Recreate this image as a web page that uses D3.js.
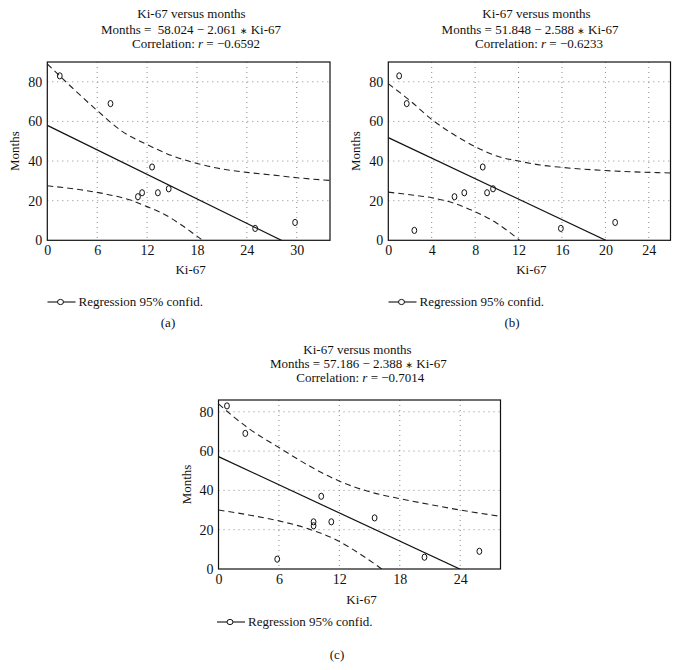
<!DOCTYPE html>
<html>
<head>
<meta charset="utf-8">
<script src="https://cdn.jsdelivr.net/npm/d3@7/dist/d3.min.js"></script>
<style>
  html, body { margin: 0; padding: 0; background: #fff; }
</style>
</head>
<body>
<svg id="chart" width="680" height="670" font-family="'Liberation Serif', 'DejaVu Serif', serif"></svg>
<script>
// ---------- DATA ----------
// Panel (a)
const kiA = [1.5, 7.6, 12.6, 10.9, 11.4, 13.3, 14.6, 25.0, 29.8];
const monthsA = [83, 69, 37, 22, 24, 24, 26, 6, 9];
const bandXUpperA = [0, 3, 6, 9, 12, 15, 18, 21, 24, 27, 30, 34];
const upperA = [89, 77, 65.5, 55, 48.3, 42.7, 38.8, 36, 34.3, 33, 31.6, 30.2];
const bandXLowerA = [0, 4, 8, 10, 12, 14, 16, 18, 20];
const lowerA = [27.5, 25.5, 22.5, 20.3, 17, 13.3, 8.1, 2.1, -4];
const regA = [58.024, -2.061];
const xTicksA = [0, 6, 12, 18, 24, 30];

// Panel (b)
const kiB = [1.0, 1.7, 2.4, 6.1, 7.0, 8.7, 9.1, 9.65, 15.9, 20.9];
const monthsB = [83, 69, 5, 22, 24, 37, 24, 26, 6, 9];
const bandXUpperB = [0, 2, 4, 6, 8, 10, 12, 14, 16, 20, 26];
const upperB = [79, 70.5, 61, 53.5, 47.3, 42.5, 40, 38, 36.8, 35.2, 34];
const bandXLowerB = [0, 2, 4, 6, 8, 10, 12, 13];
const lowerB = [24.3, 23, 21.5, 18.8, 14.4, 8.6, 0.5, -4];
const regB = [51.848, -2.588];
const xTicksB = [0, 4, 8, 12, 16, 20, 24];

// Panel (c)
const kiC = [0.84, 2.66, 5.83, 10.2, 9.44, 9.44, 11.2, 15.5, 20.45, 25.9];
const monthsC = [83, 69, 5, 37, 24, 22, 24, 26, 6, 9];
const bandXUpperC = [0, 3, 6, 9, 12, 15, 18, 21, 24, 28];
const upperC = [84, 71.5, 61.8, 52.5, 44.7, 39.3, 35.8, 32.8, 30, 26.8];
const bandXLowerC = [0, 3, 6, 9, 12, 14, 16, 17];
const lowerC = [30, 27.5, 24.5, 20.3, 14, 7.8, 0.8, -3];
const regC = [57.186, -2.388];
const xTicksC = [0, 6, 12, 18, 24];

const yTicks = [0, 20, 40, 60, 80];
const titleLine1 = "Ki-67 versus months";
const equationA = ["Months =  58.024 \u2212 2.061 ", " Ki-67"];
const equationB = ["Months = 51.848 \u2212 2.588 ", " Ki-67"];
const equationC = ["Months = 57.186 \u2212 2.388 ", " Ki-67"];
const corrA = "\u22120.6592";
const corrB = "\u22120.6233";
const corrC = "\u22120.7014";
const xLabel = "Ki-67";
const yLabel = "Months";
const legendText = "Regression 95% confid.";

// ---------- DRAW ----------
const FONT = "'Liberation Serif', 'DejaVu Serif', serif";
const svg = d3.select("#chart");

function drawPanel(p) {
  const g = svg.append("g").attr("font-family", FONT);
  const x = d3.scaleLinear().domain([0, p.xMax]).range([p.left, p.right]);
  const y = d3.scaleLinear().domain([0, p.yMax]).range([p.bottom, p.top]);
  const clipId = "clip-" + p.id;
  svg.append("defs").append("clipPath").attr("id", clipId)
    .append("rect").attr("x", p.left).attr("y", p.top)
    .attr("width", p.right - p.left).attr("height", p.bottom - p.top);

  // grid
  g.append("g").selectAll("line").data(p.xTicks.filter(d => d > 0)).join("line")
    .attr("x1", d => x(d)).attr("x2", d => x(d)).attr("y1", p.top).attr("y2", p.bottom)
    .attr("stroke", "#8a8a8a").attr("stroke-width", 1).attr("stroke-dasharray", "1,4");
  g.append("g").selectAll("line").data(yTicks.filter(d => d > 0)).join("line")
    .attr("x1", p.left).attr("x2", p.right).attr("y1", d => y(d)).attr("y2", d => y(d))
    .attr("stroke", "#8a8a8a").attr("stroke-width", 1).attr("stroke-dasharray", "1,4");

  // axes tick labels via d3 axes (no lines)
  const xAxis = g.append("g").attr("transform", `translate(0,${p.bottom})`)
    .call(d3.axisBottom(x).tickValues(p.xTicks).tickSize(0).tickPadding(5).tickFormat(d3.format("d")));
  const yAxis = g.append("g").attr("transform", `translate(${p.left},0)`)
    .call(d3.axisLeft(y).tickValues(yTicks).tickSize(0).tickPadding(5).tickFormat(d3.format("d")));
  [xAxis, yAxis].forEach(a => {
    a.attr("font-family", FONT).attr("font-size", 14);
    a.select(".domain").remove();
    a.selectAll("text").attr("font-family", FONT).attr("font-size", 14).attr("fill", "#111");
  });

  const plot = g.append("g").attr("clip-path", `url(#${clipId})`);
  const line = d3.line().x(d => x(d[0])).y(d => y(d[1])).curve(d3.curveMonotoneX);

  // confidence bands
  [[p.bxU, p.up], [p.bxL, p.lo]].forEach(([bx, bv]) => {
    plot.append("path").datum(bx.map((v, i) => [v, bv[i]]))
      .attr("d", line).attr("fill", "none").attr("stroke", "#222")
      .attr("stroke-width", 1.1).attr("stroke-dasharray", "6,4");
  });
  // regression line
  plot.append("path").datum([[0, p.reg[0]], [p.xMax, p.reg[0] + p.reg[1] * p.xMax]])
    .attr("d", d3.line().x(d => x(d[0])).y(d => y(d[1])))
    .attr("fill", "none").attr("stroke", "#111").attr("stroke-width", 1.2);

  // points
  g.append("g").selectAll("ellipse").data(p.xs.map((v, i) => [v, p.ys[i]])).join("ellipse")
    .attr("cx", d => x(d[0])).attr("cy", d => y(d[1])).attr("rx", 2.4).attr("ry", 3.1)
    .attr("fill", "none").attr("stroke", "#111").attr("stroke-width", 1);

  // frame
  g.append("rect").attr("x", p.left).attr("y", p.top)
    .attr("width", p.right - p.left).attr("height", p.bottom - p.top)
    .attr("fill", "none").attr("stroke", "#111").attr("stroke-width", 1.2);

  // titles
  const t = g.append("g").attr("font-size", 13).attr("text-anchor", "middle").attr("fill", "#111");
  t.append("text").attr("x", p.tx[0]).attr("y", p.ty[0]).text(titleLine1);
  const e = t.append("text").attr("x", p.tx[1]).attr("y", p.ty[1]).style("white-space", "pre");
  e.append("tspan").text(p.eq[0]);
  e.append("tspan").attr("font-size", 9).attr("font-family", "'DejaVu Sans', sans-serif").text("\u2217");
  e.append("tspan").text(p.eq[1]);
  const c = t.append("text").attr("x", p.tx[2]).attr("y", p.ty[2]);
  c.append("tspan").text("Correlation: ");
  c.append("tspan").attr("font-style", "italic").text("r");
  c.append("tspan").text(" = " + p.corr);

  // axis labels
  g.append("text").attr("x", (p.left + p.right) / 2 + 2).attr("y", p.xLabY)
    .attr("text-anchor", "middle").attr("font-size", 13).attr("fill", "#111").text(xLabel);
  g.append("text").attr("transform", `translate(${p.left - 28},${(p.top + p.bottom) / 2}) rotate(-90)`)
    .attr("text-anchor", "middle").attr("font-size", 13).attr("fill", "#111").text(yLabel);

  // legend
  const lg = g.append("g");
  lg.append("line").attr("x1", p.legX).attr("x2", p.legX + 28).attr("y1", p.legY).attr("y2", p.legY)
    .attr("stroke", "#111").attr("stroke-width", 1.1);
  lg.append("ellipse").attr("cx", p.legX + 13).attr("cy", p.legY).attr("rx", 3).attr("ry", 2.6)
    .attr("fill", "#fff").attr("stroke", "#111").attr("stroke-width", 1);
  lg.append("text").attr("x", p.legX + 31).attr("y", p.legY + 4).attr("font-size", 13)
    .attr("fill", "#111").text(legendText);

  // panel letter
  g.append("text").attr("x", p.letX).attr("y", p.letY).attr("text-anchor", "middle")
    .attr("font-size", 13).attr("fill", "#111").text(p.letter);
}

drawPanel({
  id: "a", left: 47.3, right: 330, top: 62, bottom: 240.3, xMax: 34, yMax: 90,
  xs: kiA, ys: monthsA, bxU: bandXUpperA, up: upperA, bxL: bandXLowerA, lo: lowerA, reg: regA,
  xTicks: xTicksA, eq: equationA, corr: corrA,
  tx: [191.5, 191, 196], ty: [18, 33.5, 47.5], xLabY: 274,
  legX: 47.5, legY: 302, letX: 168, letY: 327, letter: "(a)"
});
drawPanel({
  id: "b", left: 388.3, right: 670.5, top: 62, bottom: 240.3, xMax: 26, yMax: 90,
  xs: kiB, ys: monthsB, bxU: bandXUpperB, up: upperB, bxL: bandXLowerB, lo: lowerB, reg: regB,
  xTicks: xTicksB, eq: equationB, corr: corrB,
  tx: [536.5, 530, 539], ty: [18, 33.5, 47.5], xLabY: 274,
  legX: 388.5, legY: 302, letX: 512, letY: 327, letter: "(b)"
});
drawPanel({
  id: "c", left: 218.5, right: 500.5, top: 400, bottom: 569, xMax: 28, yMax: 86,
  xs: kiC, ys: monthsC, bxU: bandXUpperC, up: upperC, bxL: bandXLowerC, lo: lowerC, reg: regC,
  xTicks: xTicksC, eq: equationC, corr: corrC,
  tx: [357.5, 358.3, 360.3], ty: [354, 368.3, 382], xLabY: 604,
  legX: 217, legY: 622, letX: 337, letY: 659, letter: "(c)"
});
</script>
</body>
</html>
